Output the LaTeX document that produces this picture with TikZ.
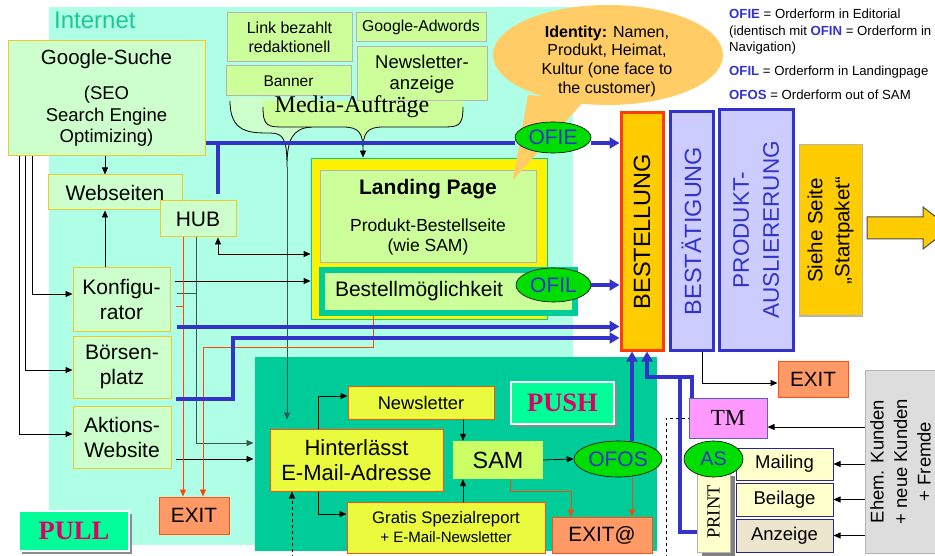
\documentclass[tikz,border=0pt]{standalone}
\usepackage{fontspec}
\usepackage{graphicx}
\setmainfont{Liberation Sans}
\newfontfamily\tms{Liberation Serif}
\usetikzlibrary{arrows.meta,shapes.geometric,shadows}
\newcommand{\fsz}[2]{\fontsize{#1}{#2}\selectfont}
\newcommand{\rot}[2]{\rotatebox{90}{\parbox{#1pt}{\centering#2}}}
\newcommand{\ofn}[1]{\textcolor{ofblue}{\textbf{#1}}}
\definecolor{netbg}{RGB}{175,255,230}
\definecolor{pushbg}{RGB}{0,204,153}
\definecolor{netgreen}{RGB}{30,200,150}
\definecolor{lgreen}{RGB}{204,255,204}
\definecolor{goldline}{RGB}{240,200,40}
\definecolor{mgreen}{RGB}{204,255,153}
\definecolor{grayline}{RGB}{180,180,180}
\definecolor{ygreen}{RGB}{234,250,60}
\definecolor{orline}{RGB}{255,80,20}
\definecolor{salmon}{RGB}{255,153,102}
\definecolor{ovalgreen}{RGB}{0,221,0}
\definecolor{ofblue}{RGB}{51,51,204}
\definecolor{spring}{RGB}{0,255,153}
\definecolor{crimson}{RGB}{220,0,100}
\definecolor{redb}{RGB}{255,60,0}
\definecolor{colgold}{RGB}{255,204,0}
\definecolor{collav}{RGB}{204,204,255}
\definecolor{colnavy}{RGB}{40,40,140}
\definecolor{lyellow}{RGB}{255,255,204}
\definecolor{colbeige}{RGB}{235,230,205}
\definecolor{tmviolet}{RGB}{255,153,255}
\definecolor{lgray}{RGB}{221,221,221}
\definecolor{bubble}{RGB}{255,204,102}
\definecolor{samgreen}{RGB}{204,255,102}
\definecolor{dgray}{RGB}{60,85,80}
\definecolor{redl}{RGB}{255,70,10}
\begin{document}
\begin{tikzpicture}[x=1pt,y=-1pt,
  sz/.style 2 args={minimum width=#1pt,minimum height=#2pt},
  gbox/.style={draw=goldline,fill=lgreen,line width=1pt,inner sep=0pt,align=center,font=\fsz{21}{25}},
  mbox/.style={draw=grayline,fill=mgreen,line width=1pt,inner sep=0pt,align=center,font=\fsz{16}{19}},
  ybox/.style={draw=orline,fill=ygreen,line width=1pt,inner sep=0pt,align=center},
  exitbox/.style={draw=orline,fill=salmon,line width=1pt,inner sep=0pt,font=\fsz{20.7}{24}},
  oval/.style={ellipse,draw=black,fill=ovalgreen,line width=.6pt,inner sep=0pt,text=ofblue,font=\fsz{21}{24}},
  pp/.style={draw=white,fill=spring,line width=1.5pt,inner sep=0pt,text=crimson,font=\tms\bfseries\fsz{26.5}{30},
    drop shadow={shadow xshift=3pt,shadow yshift=-3pt,fill=black!45,opacity=1}},
  col/.style={line width=3pt,inner sep=0pt,font=\fsz{23.5}{28}},
  prbox/.style={draw=colnavy,fill=lyellow,line width=1pt,inner sep=0pt,font=\fsz{18.5}{22}},
  arr/.style={line width=.8pt,-{Triangle[length=7pt,width=6pt]}},
  darr/.style={arr,draw=dgray},
  rarr/.style={line width=.8pt,draw=redl,-{Triangle[length=7pt,width=6pt]}},
  bline/.style={line width=4pt,draw=ofblue},
  barr/.style={bline,-{Triangle[length=10pt,width=11pt]}}]
\useasboundingbox (0,0) rectangle (935,556);
\clip (0,0) rectangle (935,556);
\fill[netbg] (49,7) rectangle (573,545);
\fill[pushbg] (255,357) rectangle (657,551);
\node[anchor=base west,inner sep=0pt,text=netgreen,font=\fsz{24}{28}] (internet) at (54,29) {Internet};
% Media-Auftraege
\node[mbox,sz={125}{49}] (linkbez) at (289.5,37.5) {Link bezahlt\\redaktionell};
\node[mbox,sz={125}{30},font=\fsz{15.5}{18}] (banner) at (288.5,81) {Banner};
\node[mbox,sz={130}{29},font=\fsz{15.8}{18}] (adwords) at (421,27.5) {Google-Adwords};
\node[mbox,sz={130}{54},font=\fsz{18.5}{21}] (nlanz) at (422,74) {Newsletter-\\anzeige};
\fill[lgreen] (230,97) -- (230,101) .. controls (230,133) and (250,133) .. (270,133) .. controls (284,133) and (287,140) .. (287,167)
  .. controls (287,140) and (292,128) .. (312,127) -- (312,97) -- cycle;
\draw[line width=.8pt] (230,101) .. controls (230,133) and (250,133) .. (270,133) .. controls (284,133) and (287,140) .. (287,167) coordinate (tipA)
  .. controls (287,140) and (292,128) .. (312,127);
\fill[mgreen] (263,101) -- (263,107) .. controls (263,127) and (268,127) .. (285,127) -- (343,127) .. controls (359,127) and (363,133) .. (363,150)
  .. controls (363,133) and (367,127) .. (383,127) -- (441,127) .. controls (458,127) and (463,127) .. (463,107) -- (463,101) -- cycle;
\draw[line width=.8pt] (263,107) .. controls (263,127) and (268,127) .. (285,127) -- (343,127) .. controls (359,127) and (363,133) .. (363,150) coordinate (tipB)
  .. controls (363,133) and (367,127) .. (383,127) -- (441,127) .. controls (458,127) and (463,127) .. (463,107);
\node[inner sep=0pt,font=\tms\fsz{24}{28}] (media) at (352,107) {Media-Aufträge};
% pull
\node[gbox,sz={197}{115},font=\fsz{18.5}{21.5}] (google) at (106.5,98) {{\fsz{20.5}{21.5}Google-Suche}\\[13.5pt](SEO\\Search Engine\\Optimizing)};
\node[gbox,sz={134}{35}] (webseiten) at (115,192.5) {Webseiten};
\node[gbox,sz={76}{36}] (hub) at (198,219) {HUB};
\node[gbox,sz={97}{63}] (konfig) at (121.5,299.5) {Konfigu-\\rator};
\node[gbox,sz={98}{62}] (boerse) at (122,367) {Börsen-\\platz};
\node[gbox,sz={98}{62}] (aktion) at (122,437) {Aktions-\\Website};
\node[exitbox,sz={70}{37}] (exitl) at (194,515.5) {EXIT};
\node[pp,sz={110}{40}] (pull) at (74,531) {PULL};
% landing page
\node[draw=pushbg,fill=yellow,line width=.8pt,sz={236}{161}] (landing) at (429,238.5) {};
\node[mbox,sz={216}{92},font=\fsz{17.5}{20.5}] (lpinfo) at (428,217) {\textbf{\fsz{21}{25}Landing Page}\\[16.5pt]Produkt-Bestellseite\\(wie SAM)};
\node[draw=pushbg,fill=mgreen,line width=6pt,sz={253}{43},inner xsep=13pt,inner ysep=0pt,text width=227pt,align=left,font=\fsz{21}{25}] (bestellm) at (448.5,291.5) {Bestellmöglichkeit};
\fill[bubble] (608,55) ellipse [x radius=115pt,y radius=50pt];
\fill[bubble] (528,95) -- (513,180) -- (585,100) -- cycle;
\node[inner sep=0pt,align=center,font=\fsz{16}{18.7}] (identity) at (607,61) {\textbf{Identity:} Namen,\\Produkt, Heimat,\\Kultur (one face to\\the customer)};
\node[oval,sz={76}{31}] (ofie) at (553,137.5) {OFIE};
\node[oval,sz={75}{34}] (ofil) at (553.5,285) {OFIL};
\foreach \y/\t [count=\i] in {19/{\ofn{OFIE} = Orderform in Editorial},35.5/{(identisch mit \ofn{OFIN} = Orderform in},52/{Navigation)},
    76/{\ofn{OFIL} = Orderform in Landingpage},100/{\ofn{OFOS} = Orderform out of SAM}}
  \node[anchor=base west,inner sep=0pt,font=\fsz{13.2}{16}] (leg\i) at (729,\y) {\t};
% bestellung
\node[col,draw=redb,fill=colgold,sz={42}{237}] (bestellung) at (642,231.5) {\rotatebox{90}{BESTELLUNG}};
\node[col,draw=ofblue,fill=collav,text=ofblue,sz={43}{238}] (bestaet) at (691.5,231) {\rotatebox{90}{BESTÄTIGUNG}};
\node[col,draw=ofblue,fill=collav,text=ofblue,sz={74}{240},font=\fsz{22.5}{30}] (produkt) at (756,230) {\rot{220}{PRODUKT-\\AUSLIERERUNG}};
\node[col,draw=grayline,fill=colgold,line width=1pt,sz={63}{171},font=\fsz{20.5}{27}] (siehe) at (830.5,230.5) {\rot{160}{Siehe Seite\\„Startpaket“}};
\filldraw[fill=colgold,draw=black!70,line width=1pt] (867,217) -- (923,217) -- (923,207) -- (950,228) -- (923,249) -- (923,239) -- (867,239) -- cycle;
% push
\node[ybox,sz={173}{62},font=\fsz{22}{25}] (hinter) at (356.5,460) {Hinterlässt\\E-Mail-Adresse};
\node[ybox,sz={146}{33},font=\fsz{18.3}{21}] (newsl) at (421,402.5) {Newsletter};
\node[ybox,sz={198}{51},font=\fsz{16.7}{19}] (gratis) at (446,527.5) {Gratis Spezialreport\\\fsz{15}{19}+ E-Mail-Newsletter};
\node[fill=samgreen,inner sep=0pt,sz={90}{38},font=\fsz{23.4}{27}] (sam) at (498,460) {SAM};
\node[pp,sz={103}{42}] (push) at (562.5,403) {PUSH};
\node[oval,sz={88}{36}] (ofos) at (618,459) {OFOS};
\node[exitbox,sz={100}{36}] (exitat) at (602,535) {EXIT@};
\node[exitbox,sz={70}{36}] (exitr) at (813,379) {EXIT};
\node[draw=ofblue!80,fill=tmviolet,inner sep=0pt,line width=1pt,sz={78}{40},font=\tms\fsz{23}{27}] (tm) at (728,418) {TM};
\node[draw=grayline,fill=lgray,line width=1pt,inner sep=0pt,sz={80}{183},font=\fsz{18.4}{23.5}] (ehem) at (905,461.5) {\rot{170}{Ehem. Kunden\\+ neue Kunden\\+ Fremde\par\vspace{9pt}}};
\node[prbox,sz={97}{32}] (mailing) at (784.5,464) {Mailing};
\node[prbox,sz={97}{33}] (beilage) at (784.5,499.5) {Beilage};
\node[prbox,fill=colbeige,sz={97}{33}] (anzeige) at (784.5,535.5) {Anzeige};
\node[prbox,draw=grayline,sz={33}{80},font=\tms\fsz{18.5}{22},drop shadow={shadow xshift=5pt,shadow yshift=-4pt,fill=black!50,opacity=1}] (print) at (713.5,512) {\rotatebox{90}{PRINT}};
\node[oval,sz={59}{36},font=\fsz{19.7}{23}] (as) at (713.5,459) {AS};
% connectors
\coordinate (hubv) at ([xshift=-2pt]hub.south);
\coordinate (hubr) at ([xshift=-15pt]hub.south);
\coordinate (hubt) at ([xshift=20pt,yshift=6pt]hub.north);
\coordinate (ofiey) at ([yshift=-45pt]google.east);
\coordinate (k2) at ([yshift=6.5pt]konfig.east);
\coordinate (k3) at ([yshift=-6.5pt]konfig.east);
\coordinate (a1) at ([yshift=-22pt]aktion.east);
\coordinate (b1) at ([xshift=6pt,yshift=-27pt]konfig.east);
\coordinate (bj) at (233,338);
\coordinate (rj) at (203,347);
\coordinate (tj) at (647,377);
\coordinate (pj) at (680,377);
\coordinate (dash1) at (292,558);
\coordinate (dash2) at (666,558);
\draw[arr] (tipB) -- (tipB |- landing.north);
\draw[darr,shorten >=9pt] (tipA) -- (tipA |- hinter.north);
\draw[arr] ([xshift=-1.5pt]google.south) -- ([xshift=-1.5pt]google.south |- webseiten.north);
\draw[arr] ([xshift=-16.5pt]konfig.north) -- ([xshift=-16.5pt]konfig.north |- webseiten.south);
\draw[arr] ([xshift=12pt]google.south west) |- ([yshift=3pt]aktion.west);
\draw[arr] ([xshift=18pt]google.south west) |- ([yshift=-3pt]boerse.west);
\draw[arr] ([xshift=25pt]google.south west) |- ([yshift=5.5pt]konfig.west);
\draw[line width=.8pt,{Triangle[length=7pt,width=6pt]}-{Triangle[length=7pt,width=6pt]}] ([xshift=20pt]hub.south) |- ([yshift=-15.5pt]landing.west);
\draw[arr] ([xshift=4pt,yshift=18.5pt]konfig.east) -- ([yshift=18.5pt]konfig.east -| landing.west);
\draw[dgray,line width=.8pt] ([xshift=6pt]k2) -- (k2 -| hubv);
\draw[redl,line width=.8pt] ([xshift=5pt]k3) -- (k3 -| hubr);
\draw[darr,shorten >=16pt] (hubv) |- ([yshift=17pt]hinter.west);
\draw[arr,shorten >=16pt] ([xshift=4pt]a1) -- (a1 -| hinter.west);
\draw[rarr] (hubr) -- (hubr |- exitl.north);
\draw[rarr] ([xshift=-75.5pt]bestellm.south) |- (rj) -- (rj |- exitl.north);
\draw[bline] (ofiey) -- (ofiey -| ofie.west);
\draw[barr] (ofiey -| ofie.east) -- (ofiey -| bestellung.west);
\draw[bline] (hubt) -- (hubt |- ofiey);
\draw[barr] (ofil.east) -- (ofil.east -| bestellung.west);
\draw[barr] (b1) -- (b1 -| bestellung.west);
\draw[barr] ([xshift=4pt]boerse.south east) -| (bj) -- (bj -| bestellung.west);
\coordinate (h1) at ([xshift=-38.5pt]hinter.north);
\coordinate (h2) at ([xshift=-38.5pt]hinter.south);
\coordinate (n1) at ([xshift=42pt]newsl.south);
\coordinate (g1) at ([xshift=17pt]gratis.north);
\coordinate (s1) at ([xshift=12pt]sam.south);
\coordinate (e1) at ([xshift=-31pt]exitat.north);
\coordinate (o1) at ([xshift=14pt]ofos.north);
\coordinate (o2) at ([xshift=14pt]ofos.south);
\coordinate (t1) at ([xshift=-36pt]tm.north);
\coordinate (p1) at ([yshift=-20pt]print.west);
\coordinate (x1) at ([xshift=10.5pt]bestaet.south);
\coordinate (m0) at ([yshift=-9pt]tm.east);
\draw[arr] (h1) |- ([yshift=6.5pt]newsl.west);
\draw[arr] (h2) |- ([yshift=13.5pt]gratis.west);
\draw[arr] (n1) -- (n1 |- sam.north);
\draw[arr] (g1) -- (g1 |- sam.south);
\draw[arr] (sam.east) -- (ofos.west);
\draw[rarr] (s1) -- ++(0,12) -| (e1);
\draw[rarr] (o2) -- (o2 |- exitat.north);
\draw[barr] (o1) -- (o1 |- bestellung.south);
\draw[barr] (t1) |- (tj) -- (tj |- bestellung.south);
\draw[bline] (p1) -| (pj);
\draw[arr,dashed] (dash1) -- (dash1 |- hinter.south);
\draw[dashed,line width=.8pt] (dash2) |- (tm.west);
\draw[arr] (x1) |- ([yshift=-4pt]exitr.west);
\draw[arr] (m0 -| ehem.west) -- (m0);
\foreach \n in {mailing,beilage,anzeige}
  \draw[arr] (\n.east -| ehem.west) -- (\n.east);
\end{tikzpicture}
\end{document}
